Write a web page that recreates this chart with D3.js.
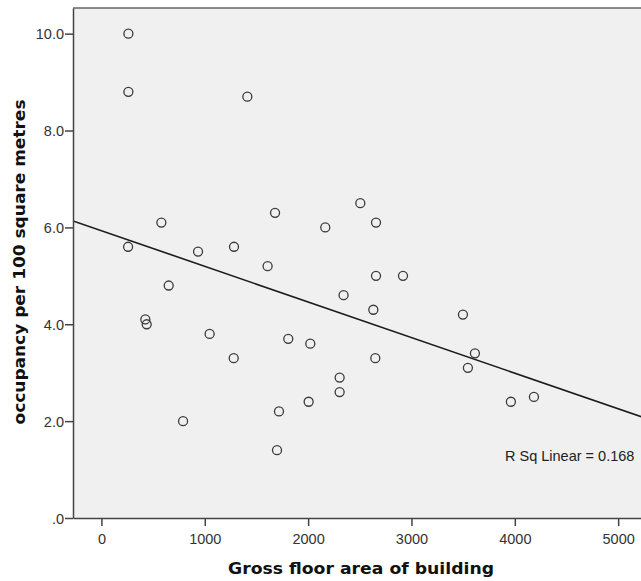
<!DOCTYPE html>
<html>
<head>
<meta charset="utf-8">
<script src="https://cdn.jsdelivr.net/npm/d3@7"></script>
<style>
  html, body { margin: 0; padding: 0; background: #ffffff; }
  svg { display: block; }
</style>
</head>
<body>
<svg id="chart" width="641" height="581"></svg>
<script>
// Data
const floorArea = [261, 261, 1412, 580, 258, 935, 1283, 651, 425, 438, 1047, 1280, 790,
  1680, 1608, 2166, 2505, 2657, 2657, 2918, 2343, 2631, 1808, 2021, 2650, 2305, 2305,
  2005, 1718, 1699, 3498, 3614, 3546, 3962, 4185];
const occupancy = [10.0, 8.8, 8.7, 6.1, 5.6, 5.5, 5.6, 4.8, 4.1, 4.0, 3.8, 3.3, 2.0,
  6.3, 5.2, 6.0, 6.5, 6.1, 5.0, 5.0, 4.6, 4.3, 3.7, 3.6, 3.3, 2.9, 2.6,
  2.4, 2.2, 1.4, 4.2, 3.4, 3.1, 2.4, 2.5];
const xTicks = [0, 1000, 2000, 3000, 4000, 5000];
const yTicks = [0, 2, 4, 6, 8, 10];
const xTitle = "Gross floor area of building";
const yTitle = "occupancy per 100 square metres";
const rSqLabel = "R Sq Linear = 0.168";

const svg = d3.select("#chart");
const pLeft = 73, pRight = 644, pTop = 8, pBottom = 518;
const tickFont = "Liberation Sans, Arial, sans-serif";
const titleFont = "DejaVu Sans, Verdana, sans-serif";

const x = d3.scaleLinear().domain([-275, 5250]).range([pLeft, pRight]);
const y = d3.scaleLinear().domain([0, 10.53]).range([pBottom, pTop]);

// plot background
svg.append("rect").attr("x", pLeft).attr("y", pTop)
  .attr("width", pRight - pLeft).attr("height", pBottom - pTop)
  .attr("fill", "#f0f0f0");
// top frame line
svg.append("line").attr("x1", pLeft).attr("x2", pRight).attr("y1", pTop).attr("y2", pTop)
  .attr("stroke", "#666").attr("stroke-width", 1.5);

// clip
svg.append("clipPath").attr("id", "clip").append("rect")
  .attr("x", pLeft).attr("y", pTop).attr("width", pRight - pLeft).attr("height", pBottom - pTop);

// regression line (least squares from the data)
const data = floorArea.map((d, i) => ({ x: d, y: occupancy[i] }));
const mx = d3.mean(floorArea), my = d3.mean(occupancy);
let sxy = 0, sxx = 0;
data.forEach(d => { sxy += (d.x - mx) * (d.y - my); sxx += (d.x - mx) * (d.x - mx); });
const slope = sxy / sxx, intercept = my - slope * mx;
const [x0, x1] = x.domain();
svg.append("line").attr("clip-path", "url(#clip)")
  .attr("x1", x(x0)).attr("y1", y(intercept + slope * x0))
  .attr("x2", x(x1)).attr("y2", y(intercept + slope * x1))
  .attr("stroke", "#1a1a1a").attr("stroke-width", 1.6);

// points
svg.append("g").selectAll("circle").data(data).join("circle")
  .attr("cx", d => x(d.x)).attr("cy", d => y(d.y)).attr("r", 4.5)
  .attr("fill", "none").attr("stroke", "#3a3a3a").attr("stroke-width", 1.3);

// axes
const xAxis = d3.axisBottom(x).tickValues(xTicks).tickFormat(d3.format("d"))
  .tickSize(8).tickSizeOuter(0);
const gx = svg.append("g").attr("transform", `translate(0,${pBottom})`).call(xAxis);
gx.select(".domain").attr("stroke", "#444").attr("stroke-width", 1.5);
gx.selectAll(".tick line").attr("stroke", "#444").attr("stroke-width", 1.5);
gx.selectAll(".tick text").attr("fill", "#333").attr("font-size", "14.5px")
  .attr("font-family", tickFont).attr("y", 26).attr("dy", 0);

const yAxis = d3.axisLeft(y).tickValues(yTicks)
  .tickFormat(d => d === 0 ? ".0" : d3.format(".1f")(d)).tickSize(8).tickSizeOuter(0);
const gy = svg.append("g").attr("transform", `translate(${pLeft},0)`).call(yAxis);
gy.select(".domain").attr("stroke", "#444").attr("stroke-width", 1.5);
gy.selectAll(".tick line").attr("stroke", "#444").attr("stroke-width", 1.5);
gy.selectAll(".tick text").attr("fill", "#333").attr("font-size", "14.5px")
  .attr("font-family", tickFont).attr("x", -9).attr("dy", "0.36em");

// titles
svg.append("text").attr("x", 361).attr("y", 574).attr("text-anchor", "middle")
  .attr("font-family", titleFont).attr("font-weight", "bold")
  .attr("font-size", "16px").attr("fill", "#111")
  .attr("textLength", 266).attr("lengthAdjust", "spacingAndGlyphs").text(xTitle);
svg.append("text").attr("transform", "translate(25,262) rotate(-90)")
  .attr("text-anchor", "middle")
  .attr("font-family", titleFont).attr("font-weight", "bold")
  .attr("font-size", "16px").attr("fill", "#111")
  .attr("textLength", 325).attr("lengthAdjust", "spacingAndGlyphs").text(yTitle);

// R squared annotation
svg.append("text").attr("x", 505).attr("y", 461)
  .attr("font-family", tickFont)
  .attr("font-size", "14.5px").attr("fill", "#222").text(rSqLabel);
</script>
</body>
</html>
